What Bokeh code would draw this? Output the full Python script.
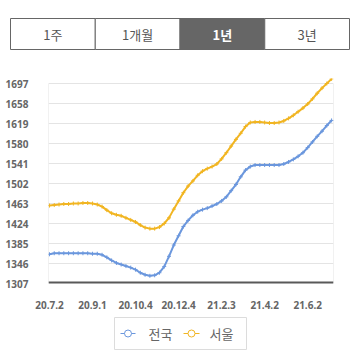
from bokeh.plotting import figure
from bokeh.models import Range1d, FixedTicker, Span, ColumnDataSource
from bokeh.embed import file_html
from bokeh.resources import INLINE
from bokeh.core.properties import value

# ---------------- data ----------------
tabs = ["1주", "1개월", "1년", "3년"]
selected_tab = "1년"

series_names = ["전국", "서울"]
nation = [1364, 1366, 1366, 1366, 1366, 1366, 1366, 1366, 1366, 1365,
          1365, 1363, 1358, 1352, 1347, 1344, 1341, 1338, 1334, 1328,
          1324, 1322, 1323, 1328, 1340, 1360, 1382, 1400, 1418, 1430,
          1440, 1447, 1451, 1454, 1458, 1462, 1468, 1476, 1488, 1500,
          1515, 1528, 1535, 1538, 1538, 1538, 1538, 1538, 1538, 1540,
          1544, 1549, 1555, 1562, 1572, 1583, 1594, 1604, 1615, 1625]
seoul = [1459, 1460, 1461, 1462, 1462, 1463, 1463, 1464, 1464, 1463,
         1461, 1457, 1450, 1444, 1441, 1439, 1435, 1431, 1427, 1421,
         1416, 1414, 1414, 1417, 1424, 1435, 1452, 1468, 1484, 1497,
         1507, 1518, 1526, 1531, 1535, 1540, 1550, 1562, 1575, 1588,
         1600, 1613, 1621, 1622, 1622, 1621, 1620, 1620, 1621, 1624,
         1629, 1635, 1642, 1649, 1657, 1667, 1678, 1688, 1697, 1706]
xtick_labels = ["20.7.2", "20.9.1", "20.10.4", "20.12.4", "21.2.3", "21.4.2", "21.6.2"]
xtick_index = [0, 9, 18, 27, 36, 45, 54]
ytick_values = [1307, 1346, 1385, 1424, 1463, 1502, 1541, 1580, 1619, 1658, 1697]

BLUE = "#6b97dd"
YELLOW = "#f1b522"
GRAY = "#666666"
KR = "Noto Sans CJK KR"
W = 362


def blank(h):
    f = figure(width=W, height=h, output_backend="svg", toolbar_location=None,
               x_range=Range1d(0, W), y_range=Range1d(h, 0),
               min_border=0, outline_line_color=None)
    f.axis.visible = False
    f.grid.visible = False
    return f


# ---------------- tab bar ----------------
tb = blank(53)
left, right, top, bot = 10, 349, 18, 49
cw = (right - left) / len(tabs)
cx = [left + cw * (i + 0.5) for i in range(len(tabs))]
fills = [GRAY if t == selected_tab else "white" for t in tabs]
tcol = ["white" if t == selected_tab else "#555555" for t in tabs]
tstyle = ["bold" if t == selected_tab else "normal" for t in tabs]
src = ColumnDataSource(dict(x=cx, y=[(top + bot) / 2] * len(tabs), t=tabs,
                            f=fills, c=tcol, s=tstyle))
tb.rect(x="x", y="y", width=cw, height=bot - top, fill_color="f",
        line_color=GRAY, line_width=1, source=src)
tb.text(x="x", y="y", text="t", text_color="c", text_font_style="s",
        text_font=value(KR), text_font_size="13px", text_align="center",
        text_baseline="middle", source=src)

# ---------------- chart ----------------
x = list(range(len(nation)))
xmin, xmax = -0.2, 59.4
p = figure(width=W, height=262, output_backend="svg", toolbar_location=None,
           x_range=Range1d(xmin, xmax), y_range=Range1d(1307, 1706.75),
           min_border_left=48, min_border_right=29, min_border_top=25,
           min_border_bottom=32, outline_line_color=None)

p.xgrid.visible = False
p.ygrid.grid_line_color = "#e4e4e4"
p.ygrid.grid_line_width = 1

p.yaxis.ticker = FixedTicker(ticks=ytick_values)
p.xaxis.ticker = FixedTicker(ticks=xtick_index)
p.xaxis.major_label_overrides = {i: l for i, l in zip(xtick_index, xtick_labels)}
for ax in (p.xaxis, p.yaxis):
    ax.axis_line_color = None
    ax.major_tick_line_color = None
    ax.minor_tick_line_color = None
    ax.major_label_text_font = "Noto Sans"
    ax.major_label_text_font_style = "bold"
    ax.major_label_text_font_size = "10px"
    ax.major_label_text_color = GRAY
p.yaxis.major_label_standoff = 14
p.xaxis.major_label_standoff = 11

# frame side borders
p.segment(x0=[xmin, xmax], y0=[1307, 1307], x1=[xmin, xmax], y1=[1697, 1697],
          line_color="#e4e4e4", line_width=1)

p.line(x, nation, line_color=BLUE, line_width=2)
p.scatter(x, nation, marker="cross", size=4, line_color=BLUE, line_width=1)
p.line(x, seoul, line_color=YELLOW, line_width=2)
p.scatter(x, seoul, marker="cross", size=4, line_color=YELLOW, line_width=1)

p.add_layout(Span(location=1307, dimension="width", line_color="#595959",
                  line_width=4))

# ---------------- legend ----------------
lg = blank(44)
lg.rect(x=[180], y=[18], width=132, height=32, fill_color="white",
        line_color="#dcdcdc", line_width=1)
gx0 = [120, 183]
gx1 = [135, 199]
tx = [148, 209]
colors = [BLUE, YELLOW]
lsrc = ColumnDataSource(dict(x0=gx0, x1=gx1, xm=[(a + b) / 2 for a, b in zip(gx0, gx1)],
                             tx=tx, y=[18, 18], c=colors, name=series_names))
lg.segment(x0="x0", y0="y", x1="x1", y1="y", line_color="c", line_width=1,
           source=lsrc)
lg.scatter(x="xm", y="y", marker="circle", size=7, line_color="c",
           fill_color="white", line_width=1, source=lsrc)
lg.text(x="tx", y="y", text="name", text_color=GRAY, text_font=value(KR),
        text_font_size="13px", text_align="left", text_baseline="middle",
        source=lsrc)

open("out.html", "w").write(file_html([tb, p, lg], INLINE))
